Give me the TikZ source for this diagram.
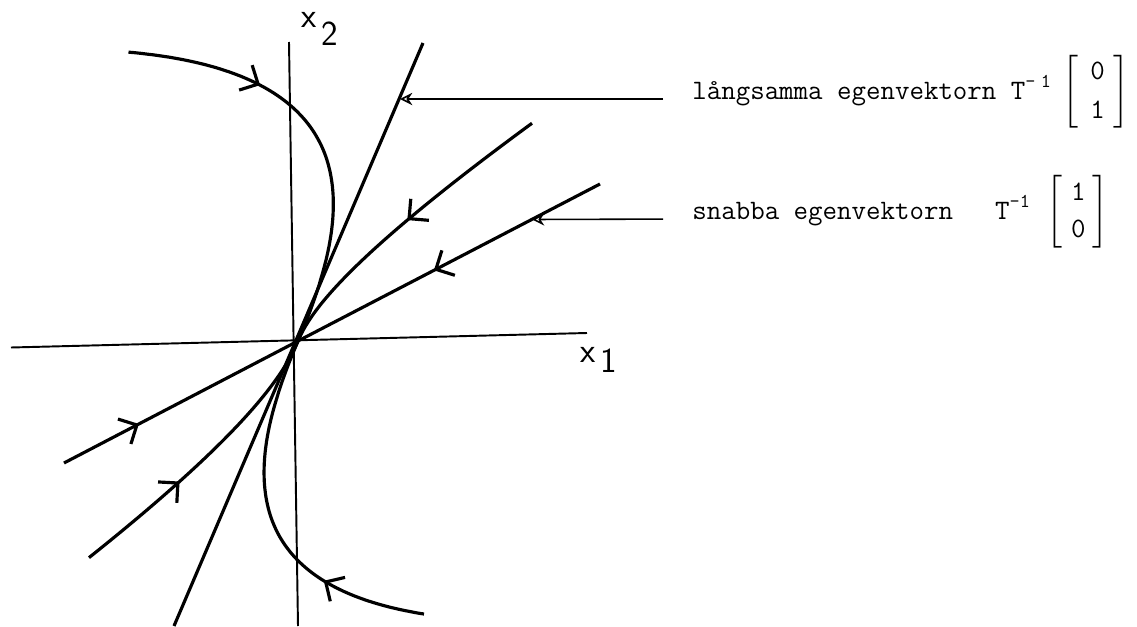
\documentclass[tikz,border=0pt]{standalone}
\usepackage{amsmath}
\usetikzlibrary{arrows.meta, decorations.markings}

\begin{document}
\begin{tikzpicture}[
  axis/.style={line width=1.1pt},
  traj/.style={line width=1.8pt},
  callout/.style={line width=0.9pt, -{Stealth[open, length=7pt, width=7pt]}, shorten <=0.58cm},
  midarrow/.style={postaction={decorate, decoration={markings,
    mark=at position #1 with {\arrow{Straight Barb[length=8pt, width=16pt]}}}}},
  eigtext/.style={anchor=base west, inner sep=0pt, font=\fontsize{16}{19}\ttfamily},
  axtext/.style={anchor=base west, inner sep=0pt, font=\fontsize{20}{24}\sffamily}
]

\useasboundingbox (-5.96,-5.70) rectangle (16.78,6.82);

% Axes
\draw[axis] (-5.74,-0.13) -- (5.78,0.16);
\draw[axis] (-0.18,5.98) -- (0,-5.70);
\node[axtext] (x1) at (5.64,-0.42) {x\hspace{3pt}\raisebox{-5.7pt}{1}};
\node[axtext] (x2) at (0.06,6.26) {x\hspace{3pt}\raisebox{-9.7pt}{2}};

% Eigenvectors
\draw[traj] (2.5,5.96) -- (-2.48,-5.70);
\draw[traj, midarrow=0.55] (6.04,3.14) -- (0,0);
\draw[traj, midarrow=0.32] (-4.68,-2.44) -- (0,0);

% Trajectories into the node
\foreach \a/\b/\p in {-7.51/4.12/0.32, 6.22/-3.70/0.285, 3.63/1.05/0.49, -3.00/-1.18/0.39} {
  \draw[traj, midarrow=\p] plot[domain=1:0.01, samples=100, variable=\s]
    ({\a*\s^2.2 + \b*\s}, {0.52*\a*\s^2.2 + 2.35*\b*\s}) -- (0,0);
}

% Labels
\coordinate (slowpt) at (2.04,4.84);
\coordinate (fastpt) at (4.68,2.43);
\node[eigtext] (slow) at (7.88,4.84) {långsamma egenvektorn T$^{\text{-\hspace{3pt}1}}\hspace{3pt}\renewcommand{\arraystretch}{1.15}\left[\hspace{7pt}\begin{matrix}\text{0}\\\text{1}\end{matrix}\hspace{5pt}\right]$};
\node[eigtext] (fast) at (7.88,2.44) {snabba egenvektorn\hspace{1.5em}T$^{\text{-1}}\hspace{6pt}\renewcommand{\arraystretch}{1.1}\left[\hspace{5pt}\begin{matrix}\text{1}\\\text{0}\end{matrix}\hspace{4pt}\right]$};
\draw[callout] (slow.base west) -- (slowpt);
\draw[callout] (fast.base west) -- (fastpt);

\end{tikzpicture}
\end{document}
